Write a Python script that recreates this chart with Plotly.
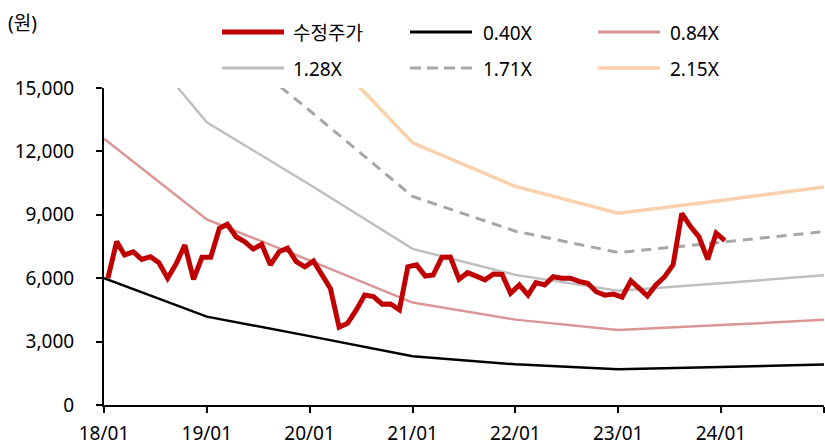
import plotly.graph_objects as go

# ---- data ----
price_dates = [f"{2018 + i // 12}-{i % 12 + 1:02d}-15" for i in range(73)]
price = [6000, 7730, 7100, 7250, 6890, 7020, 6730, 6000, 6700, 7570, 5950, 6990,
         6990, 8360, 8550, 7960, 7730, 7380, 7600, 6630, 7250, 7420, 6780, 6540,
         6810, 6150, 5520, 3680, 3870, 4500, 5200, 5130, 4770, 4780, 4500, 6540,
         6630, 6100, 6150, 6990, 7000, 5950, 6260, 6100, 5920, 6200, 6180, 5290,
         5680, 5200, 5790, 5680, 6070, 6000, 6000, 5850, 5760, 5360, 5200, 5250,
         5100, 5880, 5520, 5160, 5680, 6070, 6630, 9070, 8440, 7960, 6890, 8130,
         7780]

band_dates = ["2018-01-01", "2019-01-01", "2020-01-01", "2021-01-01",
              "2022-01-01", "2023-01-01", "2024-01-01", "2025-01-01"]
band_040 = [6000, 4180, 3260, 2308, 1924, 1688, 1800, 1920]
band_084 = [12600, 8778, 6846, 4847, 4040, 3545, 3780, 4032]
band_128 = [19200, 13376, 10432, 7386, 6157, 5402, 5760, 6144]
band_171 = [25650, 17870, 13937, 9867, 8225, 7216, 7695, 8208]
band_215 = [32250, 22468, 17523, 12406, 10342, 9073, 9675, 10320]

names = ["수정주가", "0.40X", "0.84X", "1.28X", "1.71X", "2.15X"]
x_tickvals = ["2018-01-01", "2019-01-01", "2020-01-01", "2021-01-01", "2022-01-01",
              "2023-01-01", "2024-01-01", "2025-01-01"]
x_ticktext = ["18/01", "19/01", "20/01", "21/01", "22/01", "23/01", "24/01", ""]
y_tickvals = [0, 3000, 6000, 9000, 12000, 15000]

# ---- styles ----
styles = [
    dict(color="#C00000", width=5, dash="solid"),
    dict(color="#000000", width=2.5, dash="solid"),
    dict(color="#DA9694", width=2.5, dash="solid"),
    dict(color="#BFBFBF", width=2.5, dash="solid"),
    dict(color="#A6A6A6", width=3, dash="10px,7px"),
    dict(color="#FBD0AC", width=3.5, dash="solid"),
]

FONT = "Noto Sans, Noto Sans CJK KR, sans-serif"
W, H = 825, 448
L, R, T, B = 104, 1, 88, 43
PW, PH = W - L - R, H - T - B

fig = go.Figure()
series = [(band_dates, band_215), (band_dates, band_171), (band_dates, band_128),
          (band_dates, band_084), (band_dates, band_040)]
order = [5, 4, 3, 2, 1]
for (xs, ys), k in zip(series, order):
    fig.add_trace(go.Scatter(x=xs, y=ys, mode="lines", name=names[k],
                             line=styles[k], showlegend=False, hoverinfo="skip"))
fig.add_trace(go.Scatter(x=price_dates, y=price, mode="lines", name=names[0],
                         line=dict(color=styles[0]["color"], width=5),
                         showlegend=False))


def px_x(px):
    return (px - L) / PW


def px_y(py):
    return (H - B - py) / PH


# manual legend
rows_y = [32, 68]
cols = [(222, 284, 291), (410, 472, 481), (598, 660, 668)]
shapes = []
annotations = []
for k, nm in enumerate(names):
    r, c = divmod(k, 3)
    x0, x1, xt = cols[c]
    y = rows_y[r]
    st = styles[k]
    dash = "11px,6px" if st["dash"] != "solid" else "solid"
    shapes.append(dict(type="line", xref="paper", yref="paper",
                       x0=px_x(x0), x1=px_x(x1), y0=px_y(y), y1=px_y(y),
                       line=dict(color=st["color"], width=max(st["width"], 3), dash=dash)))
    annotations.append(dict(xref="paper", yref="paper", x=px_x(xt), y=px_y(y + 1),
                            xanchor="left", yanchor="middle", text=nm, showarrow=False,
                            font=dict(family=FONT, size=19, color="#000000")))
annotations.append(dict(xref="paper", yref="paper", x=px_x(6), y=px_y(23),
                        xanchor="left", yanchor="middle", text="(원)", showarrow=False,
                        font=dict(family=FONT, size=19, color="#000000")))

fig.update_layout(
    width=W, height=H,
    margin=dict(l=L, r=R, t=T, b=B, pad=0),
    paper_bgcolor="white", plot_bgcolor="white",
    font=dict(family=FONT, size=19, color="#000000"),
    showlegend=False,
    shapes=shapes, annotations=annotations,
    xaxis=dict(type="date", range=["2018-01-01", "2025-01-01"],
               tickvals=x_tickvals, ticktext=x_ticktext,
               showgrid=False, zeroline=False, showline=True, linecolor="#000000",
               linewidth=2, ticks="outside", ticklen=6, tickwidth=2, tickcolor="#000000",
               ticklabelstandoff=4, tickfont=dict(family=FONT, size=19)),
    yaxis=dict(range=[0, 15000], tickvals=y_tickvals, tickformat=",",
               showgrid=False, zeroline=False, showline=True, linecolor="#000000",
               linewidth=2, ticks="outside", ticklen=6, tickwidth=2, tickcolor="#000000",
               ticklabelstandoff=18, tickfont=dict(family=FONT, size=19)),
)

fig.write_html("out.html")
